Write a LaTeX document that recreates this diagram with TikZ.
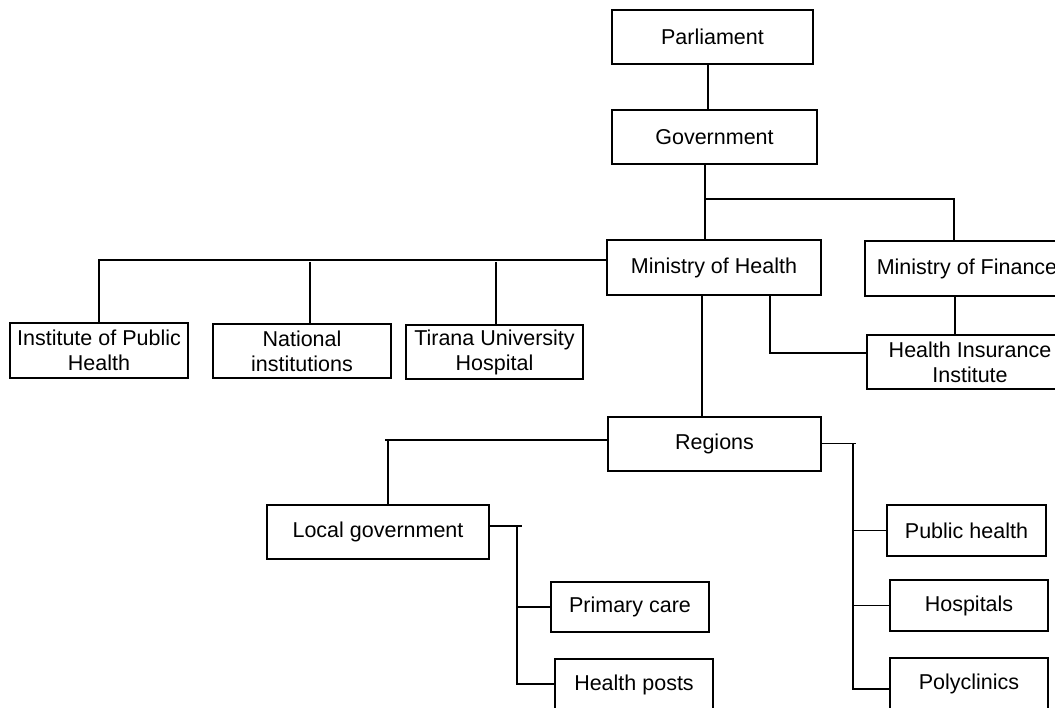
\documentclass[tikz,border=0pt]{standalone}
\usepackage{fontspec}
\setmainfont{Liberation Sans}
\usetikzlibrary{calc}

\begin{document}
\begin{tikzpicture}[x=1pt, y=-1pt, line width=1.3pt,
  box/.style={draw, rectangle, align=center, inner sep=0pt, font=\fontsize{21.5}{25}\selectfont}]
\clip (0, 0) rectangle (1055, 708);

\node [box, minimum width=201, minimum height=54] (parl) at (712.5, 37) {Parliament};
\node [box, minimum width=205, minimum height=54] (gov) at (714.5, 137) {Government};
\node [box, minimum width=214, minimum height=55] (moh) at (714, 267.5) {Ministry of Health};
\node [box, minimum width=204, minimum height=55] (mof) at (967, 268.5) {Ministry of Finance};

\node [box, minimum width=178, minimum height=55] (iph) at (99, 350.5) {Institute of Public\\Health};
\node [box, minimum width=178, minimum height=54] (natinst) at (302, 351) {National\\institutions};
\node [box, minimum width=177, minimum height=54] (tuh) at (494.5, 352) {Tirana University\\Hospital};
\node [box, minimum width=206, minimum height=54] (hii) at (970, 362) {Health Insurance\\Institute};

\node [box, minimum width=213, minimum height=54] (reg) at (714.5, 444) {Regions};
\node [box, minimum width=222, minimum height=54] (locgov) at (378, 532) {Local government};
\node [box, minimum width=159, minimum height=51] (pubh) at (966.5, 530.5) {Public health};
\node [box, minimum width=158, minimum height=50] (prim) at (630, 607) {Primary care};
\node [box, minimum width=158, minimum height=51] (hosp) at (969, 605.5) {Hospitals};
\node [box, minimum width=158, minimum height=51] (hposts) at (634, 684.5) {Health posts};
\node [box, minimum width=158, minimum height=52] (poly) at (969, 684) {Polyclinics};

\coordinate (pg) at (708, 0);
\draw (pg |- parl.south) -- (pg |- gov.north);

\coordinate (gm) at (705, 199);
\coordinate (gf) at (954, 199);
\draw (gm |- gov.south) -- (gm |- moh.north);
\draw (gm) -- (gf) -- (gf |- mof.north);

\coordinate (ml) at (99, 260);
\coordinate (mn) at (310, 262);
\coordinate (mt) at (496, 262);
\draw (moh.west |- ml) -- (ml) -- (ml |- iph.north);
\draw (mn) -- (mn |- natinst.north);
\draw (mt) -- (mt |- tuh.north);

\coordinate (mr) at (702, 0);
\coordinate (mh) at (770, 353);
\coordinate (fh) at (955, 0);
\draw (mr |- moh.south) -- (mr |- reg.north);
\draw (mh |- moh.south) -- (mh) -- (mh -| hii.west);
\draw (fh |- mof.south) -- (fh |- hii.north);

\coordinate (rl) at (385, 440);
\coordinate (rlv) at (388, 440);
\draw (reg.west |- rl) -- (rl);
\draw (rlv) -- (rlv |- locgov.north);

\coordinate (rr) at (856, 443.5);
\coordinate (rv) at (853, 443.5);
\coordinate (rv2) at (853, 689);
\draw (reg.east |- rr) -- (rr);
\draw (rv) -- (rv2) -- (rv2 -| poly.west);
\draw (rv |- pubh.west) -- (pubh.west);
\draw (rv |- hosp.west) -- (hosp.west);

\coordinate (lr) at (522, 526);
\coordinate (lv) at (517, 526);
\coordinate (lv2) at (517, 684);
\draw (locgov.east |- lr) -- (lr);
\draw (lv) -- (lv2) -- (lv2 -| hposts.west);
\draw (lv |- prim.west) -- (prim.west);
\end{tikzpicture}
\end{document}
